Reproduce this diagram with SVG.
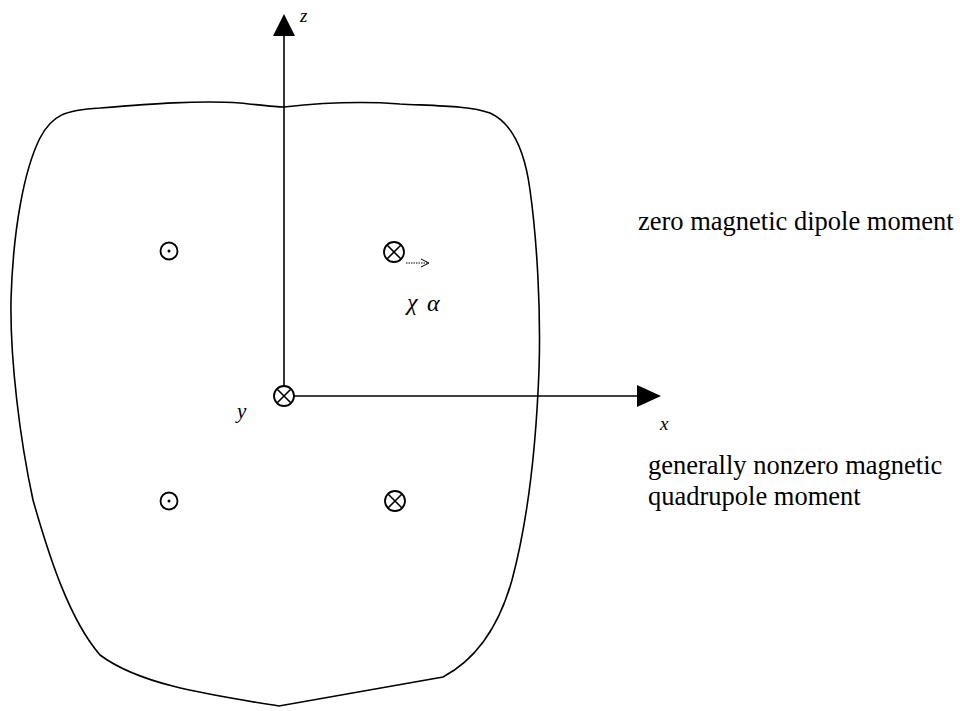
<svg xmlns="http://www.w3.org/2000/svg" width="960" height="711" viewBox="0 0 960 711">
<style>
.ln{fill:none;stroke:#000;stroke-width:1.6}
.sym{fill:#fff;stroke:#000;stroke-width:1.8}
.t{font-family:'Liberation Serif','DejaVu Serif',serif;fill:#000}
.it{font-family:'Liberation Serif','DejaVu Serif',serif;font-style:italic;fill:#000}
</style>
<defs>
<g id="cross"><circle class="sym" cx="0" cy="0" r="10"/><path class="ln" d="M-7,-7L7,7M7,-7L-7,7"/></g>
<g id="dot"><circle class="sym" cx="0" cy="0" r="8.5"/><circle cx="0" cy="0" r="1.5" fill="#000"/></g>
</defs>
<g id="body">
<path class="ln" d="M284 107 C320 103,360 101,400 104 C440 106,470 106,490 113 C510 122,524 145,530 190 C537 240,541 310,539 370 C536 450,528 520,512 580 C498 630,475 660,443 677 L279 706 C210 695,140 685,100 655 C70 620,50 560,33 500 C20 440,10 360,11 300 C13 230,24 170,40 138 C52 115,65 110,100 108 C150 104,200 100,240 103 C260 105,275 107,284 107 Z"/>
</g>
<g id="connectors">
<line class="ln" x1="284" y1="34" x2="284" y2="386"/>
<polygon points="284,14 273,36 295,36" fill="#000"/>
<line class="ln" x1="294" y1="396" x2="640" y2="396"/>
<polygon points="661,396 637,385 637,407" fill="#000"/>
<line x1="406" y1="263" x2="427" y2="263" stroke="#000" stroke-width="1" stroke-dasharray="1.5,1"/>
<path d="M421,259 L429,263 L421,267" fill="none" stroke="#000" stroke-width="1"/>
</g>
<g id="origin"><use href="#cross" x="284" y="396"/></g>
<g id="c1"><use href="#dot" x="169" y="251"/></g>
<g id="c2"><use href="#cross" x="394" y="252"/></g>
<g id="c3"><use href="#dot" x="169" y="501"/></g>
<g id="c4"><use href="#cross" x="395" y="501"/></g>
<g id="labels">
<text class="it" x="300" y="22" font-size="19" font-family="Liberation Serif, DejaVu Serif, serif">z</text>
<text class="it" x="660" y="430" font-size="19" font-family="Liberation Serif, DejaVu Serif, serif">x</text>
<text class="it" x="237" y="418" font-size="21" font-family="Liberation Serif, DejaVu Serif, serif">y</text>
<text class="it" x="407" y="310" font-size="24" font-family="Liberation Serif, DejaVu Serif, serif">χ</text>
<text class="it" x="427" y="311" font-size="24" font-family="Liberation Serif, DejaVu Serif, serif">α</text>
<text class="t" x="638" y="230" font-size="26.5" font-family="Liberation Serif, DejaVu Serif, serif">zero magnetic dipole moment</text>
<text class="t" x="648" y="474" font-size="26.5" font-family="Liberation Serif, DejaVu Serif, serif">generally nonzero magnetic</text>
<text class="t" x="648" y="505" font-size="26.5" font-family="Liberation Serif, DejaVu Serif, serif">quadrupole moment</text>
</g>
</svg>
